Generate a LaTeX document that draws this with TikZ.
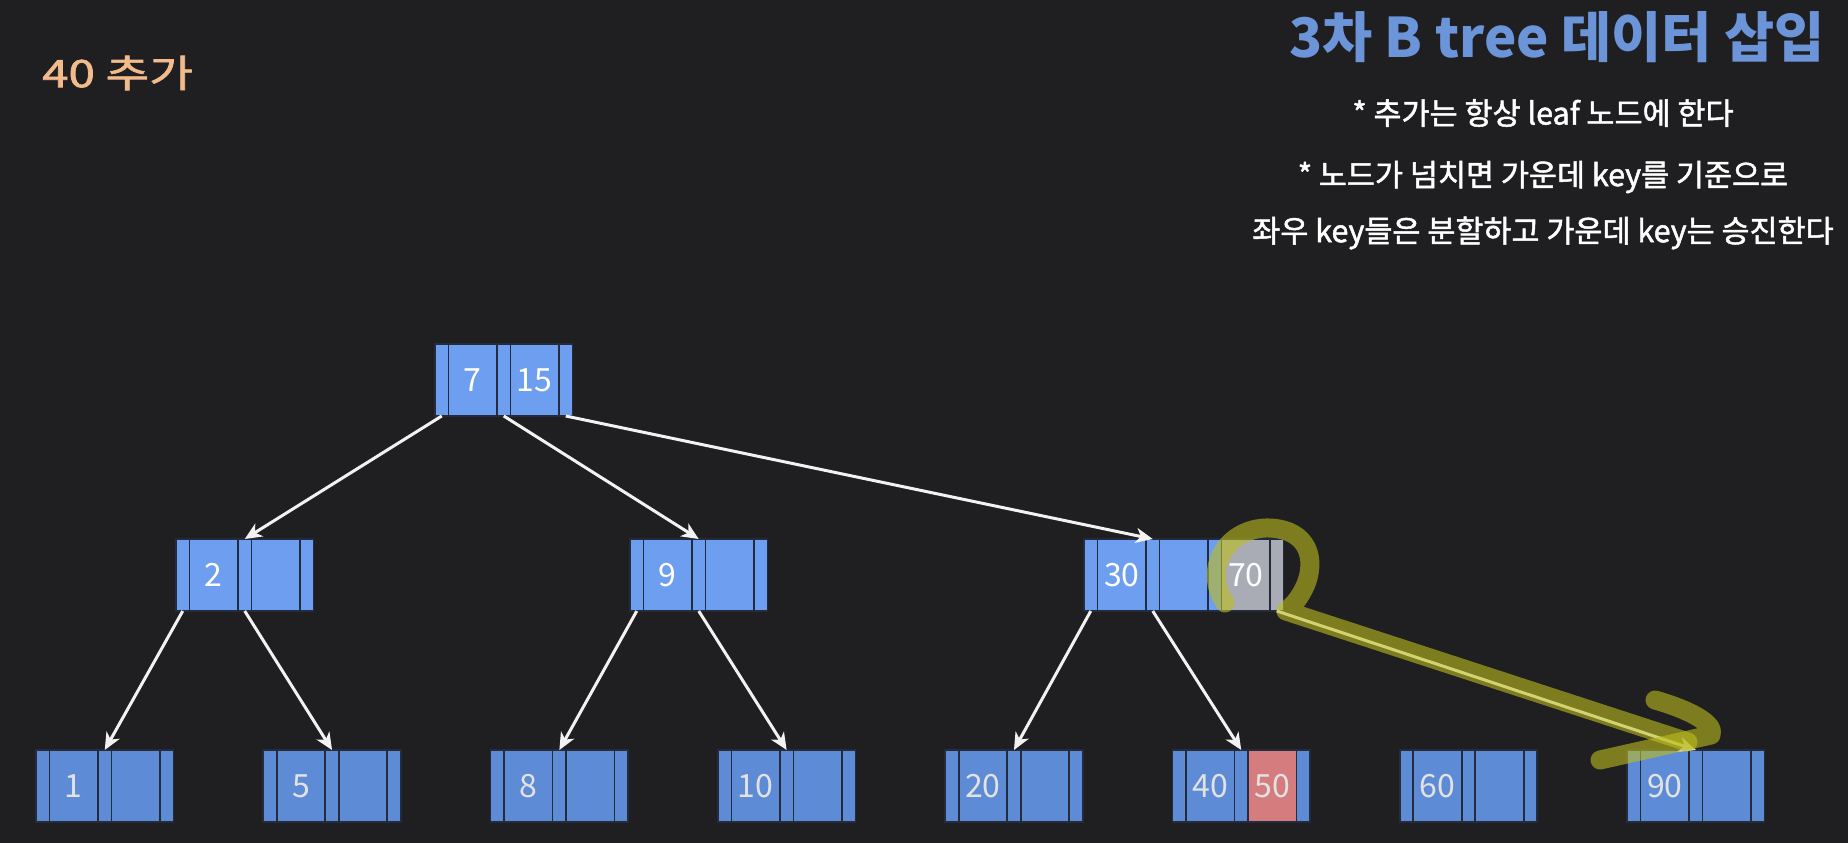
\documentclass[tikz,border=0pt]{standalone}
\usepackage{fontspec}
\setmainfont{Noto Sans CJK KR}
\newfontfamily\krsemi[FakeBold=1.6]{Noto Sans CJK KR}
\usetikzlibrary{arrows.meta}
\definecolor{bg}{HTML}{1F1F21}
\definecolor{nblue}{HTML}{6D9EEF}
\definecolor{lblue}{HTML}{5E8BD5}
\definecolor{segline}{HTML}{232B3C}
\definecolor{greyseg}{HTML}{A9ACB4}
\definecolor{redseg}{HTML}{D47C7E}
\definecolor{titleblue}{HTML}{6C95D9}
\definecolor{peach}{HTML}{F2BB8C}
\definecolor{hilite}{HTML}{BDBD1E}
\definecolor{keytext}{HTML}{E2E2E2}
\definecolor{arrowwhite}{HTML}{F2F2F2}
\newcommand{\bnode}[7]{%
  \node[ptrseg,fill=#4,anchor=north west] (#1-p1) at (#2,#3) {};
  \node[keyseg,fill=#4,anchor=west] (#1-k1) at (#1-p1.east) {#5};
  \node[ptrseg,fill=#4,anchor=west] (#1-p2) at (#1-k1.east) {};
  \node[keyseg,fill=#7,anchor=west] (#1-k2) at (#1-p2.east) {#6};
  \node[ptrseg,fill=#4,anchor=west] (#1-p3) at (#1-k2.east) {};
}
\tikzset{
  ptrseg/.style={draw=segline, line width=1.7pt, minimum width=13.5pt, minimum height=72pt, inner sep=0pt, outer sep=0pt},
  keyseg/.style={draw=segline, line width=1.7pt, minimum width=48.5pt, minimum height=72pt, inner sep=0pt, outer sep=0pt, text=white, font=\fontsize{32}{34}\selectfont},
  arr/.style={draw=arrowwhite, line width=3pt, -{Stealth[length=17pt,width=15pt,inset=5pt]}},
  hl/.style={draw=hilite, opacity=0.6, line width=19pt, line cap=round, line join=round},
  rule/.style={text=white, font=\fontsize{30.5}{34}\selectfont\krsemi, inner sep=0pt}
}
\begin{document}
\begin{tikzpicture}[x=1pt,y=-1pt]
\fill[bg] (0,0) rectangle (1848,843);
\useasboundingbox (0,0) rectangle (1848,843);

% texts
\node[text=titleblue, font=\fontsize{54.5}{58}\selectfont\bfseries, inner sep=0pt] (title) at (1557,37) {3차 B tree 데이터 삽입};
\node[rule] (r1) at (1543,113) {* 추가는 항상 leaf 노드에 한다};
\node[rule] (r2) at (1543,177) {* 노드가 넘치면 가운데 key를 기준으로};
\node[rule] (r3) at (1543,233) {좌우 key들은 분할하고 가운데 key는 승진한다};
\node[text=peach, font=\fontsize{38}{42}\selectfont\krsemi, anchor=west, inner sep=0pt] (add) at (42,73) {\scalebox{1.25}[1]{40 추가}};

% tree nodes
\bnode{root}{435}{344}{nblue}{7}{15}{nblue}
\bnode{n2}{176}{539}{nblue}{2}{}{nblue}
\bnode{n9}{630}{539}{nblue}{9}{}{nblue}
\bnode{n30}{1084}{539}{nblue}{30}{}{nblue}
\node[keyseg,fill=greyseg,anchor=west] (n30-k3) at (n30-p3.east) {70};
\node[ptrseg,fill=greyseg,anchor=west] (n30-p4) at (n30-k3.east) {};

\begin{scope}[keyseg/.append style={text=keytext}]
\bnode{l1}{36}{750}{lblue}{1}{}{lblue}
\bnode{l5}{263.3}{750}{lblue}{5}{}{lblue}
\bnode{l8}{490.6}{750}{lblue}{8}{}{lblue}
\bnode{l10}{717.9}{750}{lblue}{10}{}{lblue}
\bnode{l20}{945.2}{750}{lblue}{20}{}{lblue}
\bnode{l40}{1172.5}{750}{lblue}{40}{50}{redseg}
\bnode{l60}{1399.8}{750}{lblue}{60}{}{lblue}
\bnode{l90}{1627.1}{750}{lblue}{90}{}{lblue}
\end{scope}

% connectors
\draw[arr] (root-p1.south) -- (n2-p2.north);
\draw[arr] (root-p2.south) -- (n9-p2.north);
\draw[arr] (root-p3.south) -- (n30-p2.north);
\draw[arr] (n2-p1.south) -- (l1-p2.north);
\draw[arr] (n2-p2.south) -- (l5-p2.north);
\draw[arr] (n9-p1.south) -- (l8-p2.north);
\draw[arr] (n9-p2.south) -- (l10-p2.north);
\draw[arr] (n30-p1.south) -- (l20-p2.north);
\draw[arr] (n30-p2.south) -- (l40-p2.north);
\draw[arr] (n30-p4.south) -- (l90-p2.north);

% highlighter annotation
\draw[hl] (1225,603) .. controls (1203,570) and (1225,530) .. (1265,528)
  .. controls (1302,527) and (1318,552) .. (1306,584)
  .. controls (1299,600) and (1292,606) .. (1286,611) -- (1688,742);
\draw[hl] (1655,700) .. controls (1690,710) and (1716,724) .. (1711,735) -- (1600,760);
\end{tikzpicture}
\end{document}
